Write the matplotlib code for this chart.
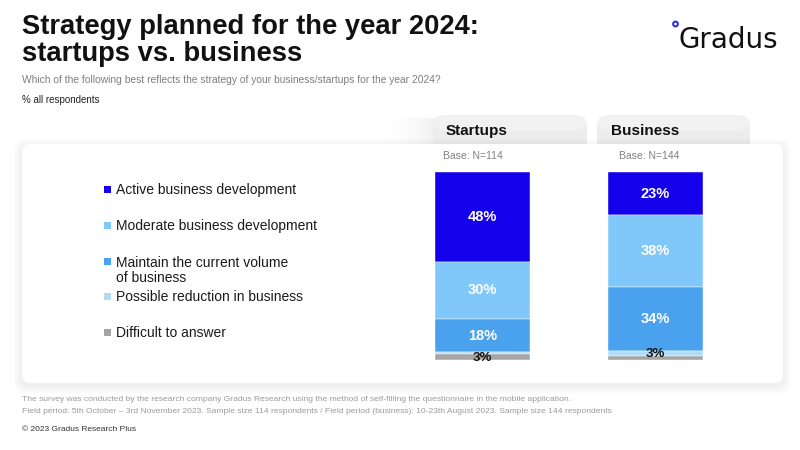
import matplotlib.pyplot as plt
import numpy as np
from matplotlib.patches import FancyBboxPatch, Circle

plt.rcParams['font.family'] = ['Liberation Sans', 'DejaVu Sans']

# 数据
groups = ['Startups', 'Business']
bases = ['Base: N=114', 'Base: N=144']
categories = ['Active business development', 'Moderate business development',
              'Maintain the current volume\nof business', 'Possible reduction in business',
              'Difficult to answer']
startups = [48, 30, 18, 1, 3]
business = [23, 38, 34, 3, 2]
labels_startups = ['48%', '30%', '18%', '', '3%']
labels_business = ['23%', '38%', '34%', '3%', '']
colors = ['#1400EA', '#80C8FA', '#4AA2EE', '#B0DCF8', '#A5A5A5']

W, H = 800, 450
fig = plt.figure(figsize=(8, 4.5), dpi=100)
fig.patch.set_facecolor('white')

# 背景层（像素坐标）
bg = fig.add_axes([0, 0, 1, 1])
bg.set_xlim(0, W)
bg.set_ylim(H, 0)
bg.axis('off')

# 标签页左侧的淡阴影
grad = np.linspace(0, 1, 60)[None, :] ** 2
bg.imshow(np.dstack([np.full_like(grad, 0.85)] * 3 + [grad * 0.35]),
          extent=(375, 435, 145, 118), aspect='auto', zorder=0.5)

# 标签页
for x0, x1 in [(433, 587), (597, 750)]:
    bg.add_patch(FancyBboxPatch((x0, 115), x1 - x0, 50,
                                boxstyle='round,pad=0,rounding_size=12',
                                fc='#ECECEC', ec='none', zorder=1))
    bg.add_patch(FancyBboxPatch((x0, 115), x1 - x0, 16,
                                boxstyle='round,pad=0,rounding_size=12',
                                fc='#F4F4F4', ec='none', zorder=1.1, alpha=0.7))

# 面板阴影
for i in range(8):
    d = 8 - i
    bg.add_patch(FancyBboxPatch((22 - d, 144 - d + 3), 761 + 2 * d, 239 + 2 * d,
                                boxstyle='round,pad=0,rounding_size=10',
                                fc='black', ec='none', alpha=0.008, zorder=2))
bg.add_patch(FancyBboxPatch((22, 144), 761, 239,
                            boxstyle='round,pad=0,rounding_size=8',
                            fc='white', ec='none', zorder=3))

# 标题
bg.text(22, 34, 'Strategy planned for the year 2024:', fontsize=19.7, fontweight='bold',
        color='#111111', va='baseline', zorder=5)
bg.text(22, 61, 'startups vs. business', fontsize=19.7, fontweight='bold',
        color='#111111', va='baseline', zorder=5)
bg.text(22, 83, 'Which of the following best reflects the strategy of your business/startups for the year 2024?',
        fontsize=7.4, color='#7F7F7F', va='baseline', zorder=5)
bg.text(22, 103, '% all respondents', fontsize=7, color='#222222', va='baseline', zorder=5)

# 标志
bg.text(678, 48, 'Gradus', fontsize=20, color='#111111', va='baseline', zorder=5,
        family='DejaVu Sans')
bg.add_patch(Circle((675.5, 24), 2.4, fc='white', ec='#2A2AE0', lw=1.4, zorder=6))

# 标签页文字
tab_x = [446, 611]
base_x = [443, 619]
for g, b, tx, bx in zip(groups, bases, tab_x, base_x):
    bg.text(tx, 135, g, fontsize=11, fontweight='bold', color='#111111', va='baseline', zorder=5)
    bg.text(bx, 159, b, fontsize=7.5, color='#808080', va='baseline', zorder=5)

# 图例
legend_y = [190, 226, 262, 297, 333]
for cat, c, y in zip(categories, colors, legend_y):
    bg.add_patch(plt.Rectangle((104, y - 4), 7, 7, fc=c, ec='none', zorder=5))
    if '\n' in cat:
        bg.text(116, y - 6, cat, fontsize=10, color='#1A1A1A', va='top', zorder=5,
                linespacing=1.05)
    else:
        bg.text(116, y, cat, fontsize=10, color='#1A1A1A', va='center', zorder=5)

# 堆叠柱状图
w = 95 / 173
ax = fig.add_axes([435 / W, (H - 360) / H, 268 / W, 188 / H])
ax.set_xlim(-w / 2, 1 + w / 2)
ax.set_ylim(0, 100)
ax.axis('off')
ax.set_zorder(10)
ax.patch.set_alpha(0)

for xi, vals, labs in [(0, startups, labels_startups), (1, business, labels_business)]:
    top = 100
    for i, (v, lab) in enumerate(zip(vals, labs)):
        ax.bar(xi, v, width=w, bottom=top - v, color=colors[i], edgecolor='white', linewidth=0.3)
        if lab:
            if v >= 10:
                ax.text(xi, top - v / 2, lab, ha='center', va='center', color='white',
                        fontsize=10.5, fontweight='bold')
            else:
                ax.text(xi, top - v / 2 - 0.5, lab, ha='center', va='center', color='#111111',
                        fontsize=9.5, fontweight='bold')
        top -= v

# 脚注
bg.text(22, 401, 'The survey was conducted by the research company Gradus Research using the method of self-filling the questionnaire in the mobile application.',
        fontsize=6.1, color='#9A9A9A', va='baseline', zorder=5)
bg.text(22, 413, 'Field period: 5th October \u2013 3rd November 2023. Sample size 114 respondents / Field period (business): 10-23th August 2023. Sample size 144 respondents',
        fontsize=6.1, color='#9A9A9A', va='baseline', zorder=5)
bg.text(22, 431, '\u00a9 2023 Gradus Research Plus', fontsize=6, color='#333333', va='baseline', zorder=5)

fig.savefig('out.png', dpi=100, facecolor='white')
